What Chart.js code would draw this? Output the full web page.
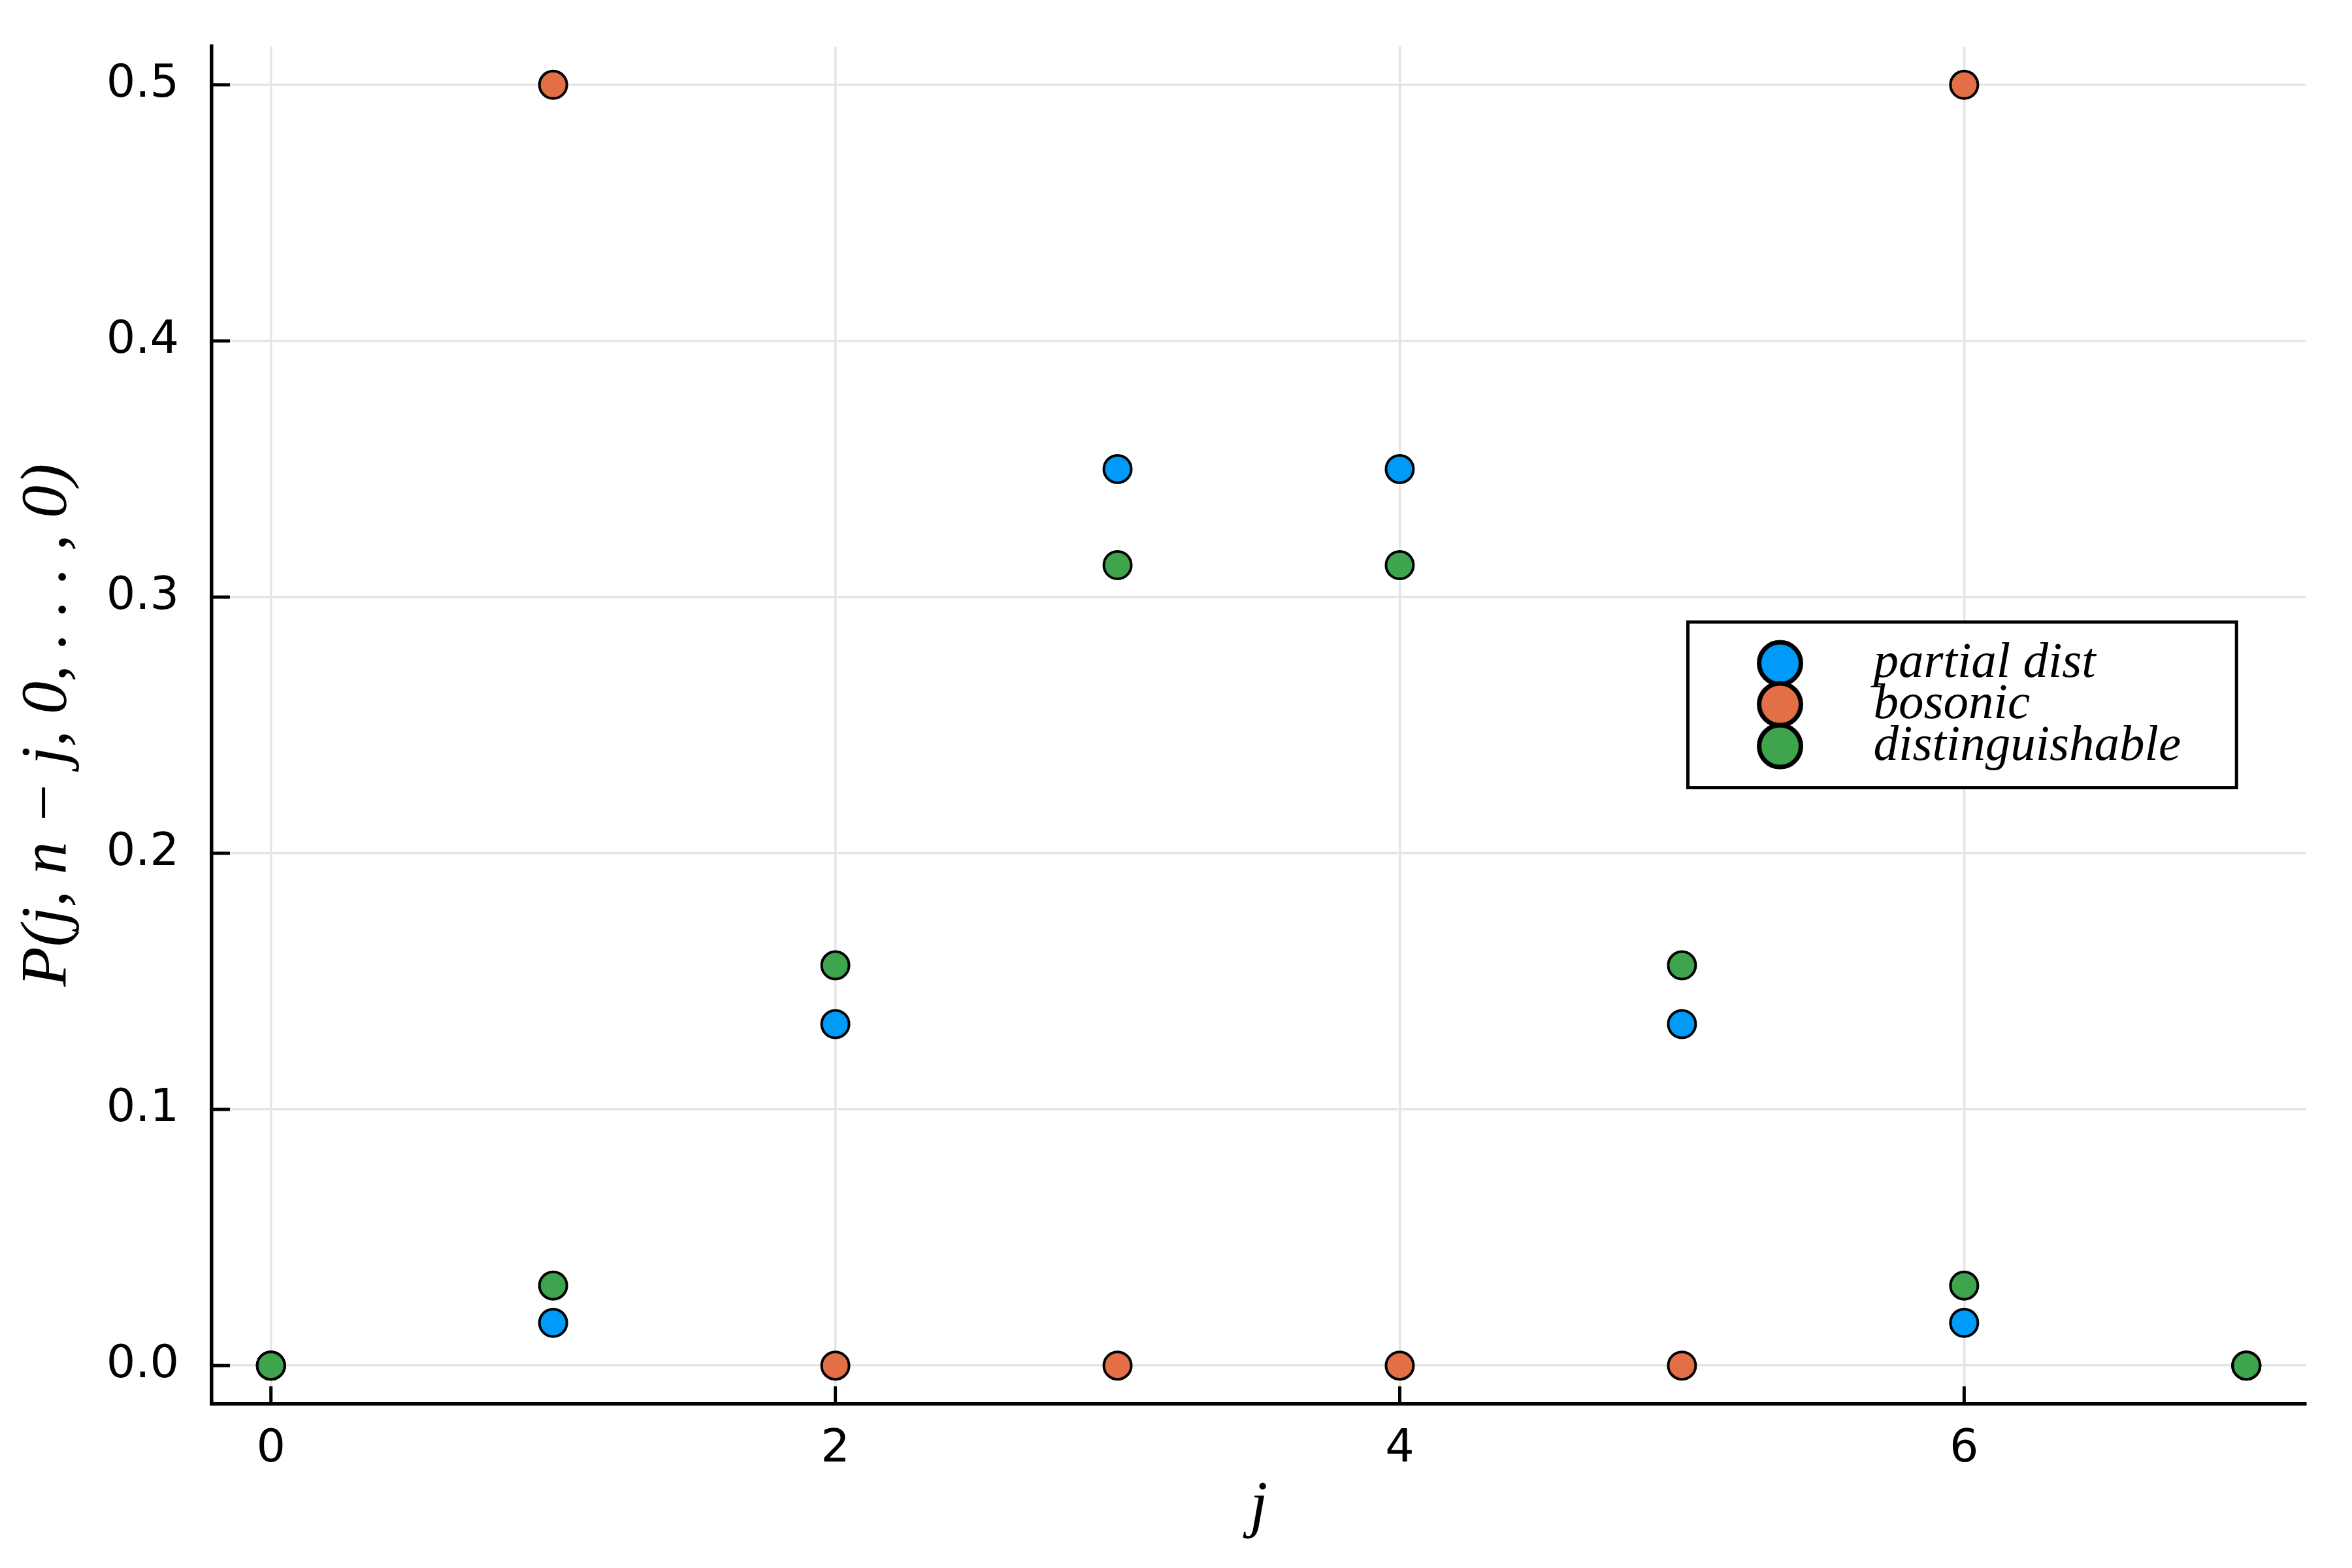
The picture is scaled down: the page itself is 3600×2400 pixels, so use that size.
<!DOCTYPE html>
<html>
<head>
<meta charset="utf-8">
<script src="https://cdn.jsdelivr.net/npm/chart.js@4"></script>
<style>
  html, body { margin:0; padding:0; background:#fff; }
  #wrap { width:3600px; height:2400px; }
</style>
</head>
<body>
<div id="wrap"><canvas id="probChart"></canvas></div>
<script>
// Data
const jValues = [0, 1, 2, 3, 4, 5, 6, 7];
const partialDist = [0, 0.0167, 0.1333, 0.35, 0.35, 0.1333, 0.0167, 0];
const bosonic = [0, 0.5, 0, 0, 0, 0, 0.5, 0];
const distinguishable = [0, 0.03125, 0.15625, 0.3125, 0.3125, 0.15625, 0.03125, 0];

const seriesLabels = ['partial dist', 'bosonic', 'distinguishable'];
const xTicks = [0, 2, 4, 6];
const yTicks = [0.0, 0.1, 0.2, 0.3, 0.4, 0.5];

const colors = ['#009AF9', '#E26F46', '#3EA44E'];

function toPoints(ys) {
    return jValues.map((x, i) => ({ x: x, y: ys[i] }));
}

// Inward tick marks on both axes
const innerTicks = {
    id: 'innerTicks',
    beforeDatasetsDraw(chart) {
        const ctx = chart.ctx, ca = chart.chartArea;
        const xs = chart.scales.x, ys = chart.scales.y;
        ctx.save();
        ctx.strokeStyle = '#000';
        ctx.lineWidth = 5;
        xTicks.forEach(v => {
            const px = xs.getPixelForValue(v);
            ctx.beginPath(); ctx.moveTo(px, ca.bottom); ctx.lineTo(px, ca.bottom - 27); ctx.stroke();
        });
        yTicks.forEach(v => {
            const py = ys.getPixelForValue(v);
            ctx.beginPath(); ctx.moveTo(ca.left, py); ctx.lineTo(ca.left + 28, py); ctx.stroke();
        });
        ctx.restore();
    }
};

// Legend box inside the plot, like the original
const boxLegend = {
    id: 'boxLegend',
    afterDraw(chart) {
        const ctx = chart.ctx, ca = chart.chartArea;
        const w = ca.right - ca.left, h = ca.bottom - ca.top;
        const left = ca.left + 0.705 * w, right = ca.left + 0.967 * w;
        const top = ca.top + 0.424 * h, bottom = ca.top + 0.546 * h;
        ctx.save();
        ctx.fillStyle = '#fff';
        ctx.fillRect(left, top, right - left, bottom - top);
        ctx.strokeStyle = '#000';
        ctx.lineWidth = 5;
        ctx.strokeRect(left, top, right - left, bottom - top);

        const markerX = left + 141;
        const rowY = [top + 63, top + 126, top + 190];
        chart.data.datasets.forEach((ds, i) => {
            ctx.beginPath();
            ctx.arc(markerX, rowY[i], 32, 0, Math.PI * 2);
            ctx.fillStyle = ds.backgroundColor;
            ctx.fill();
            ctx.lineWidth = 7;
            ctx.strokeStyle = '#000';
            ctx.stroke();
        });
        ctx.fillStyle = '#000';
        ctx.font = 'italic 77px "Liberation Serif"';
        ctx.textBaseline = 'alphabetic';
        ctx.textAlign = 'left';
        chart.data.datasets.forEach((ds, i) => {
            ctx.fillText(ds.label, left + 284, rowY[i] + 21);
        });
        ctx.restore();
    }
};

function makeDataset(i, ys, order) {
    return {
        label: seriesLabels[i],
        data: toPoints(ys),
        backgroundColor: colors[i],
        borderColor: '#000',
        borderWidth: 4,
        pointRadius: 21,
        pointHoverRadius: 21,
        order: order
    };
}

const ctx = document.getElementById('probChart').getContext('2d');
new Chart(ctx, {
    type: 'scatter',
    data: {
        datasets: [
            makeDataset(0, partialDist, 3),
            makeDataset(1, bosonic, 2),
            makeDataset(2, distinguishable, 1)
        ]
    },
    options: {
        responsive: true,
        maintainAspectRatio: false,
        devicePixelRatio: 1,
        animation: false,
        layout: { padding: { top: 71, right: 71, left: 0, bottom: 0 } },
        plugins: { legend: { display: false }, tooltip: { enabled: false } },
        scales: {
            x: {
                type: 'linear',
                min: -0.21, max: 7.21,
                afterBuildTicks: s => { s.ticks = xTicks.map(v => ({ value: v })); },
                afterFit: s => { s.height = 251; s.paddingLeft = 0; s.paddingRight = 0; },
                grid: { color: '#e5e5e5', lineWidth: 3.5, drawTicks: false },
                border: { color: '#000', width: 5.5 },
                ticks: {
                    color: '#000', padding: 28,
                    font: { family: '"DejaVu Sans"', size: 70 },
                    callback: v => String(v)
                },
                title: {
                    display: true, text: 'j', color: '#000',
                    font: { family: '"Liberation Serif"', size: 98, style: 'italic' },
                    padding: { top: 0, bottom: 33 }
                }
            },
            y: {
                type: 'linear',
                min: -0.015, max: 0.515,
                afterBuildTicks: s => { s.ticks = yTicks.map(v => ({ value: v })); },
                afterFit: s => { s.width = 324; s.paddingTop = 0; s.paddingBottom = 0; },
                grid: { color: '#e5e5e5', lineWidth: 3.5, drawTicks: false },
                border: { color: '#000', width: 5.5 },
                ticks: {
                    color: '#000', padding: 50,
                    font: { family: '"DejaVu Sans"', size: 70 },
                    callback: v => v.toFixed(1)
                },
                title: {
                    display: true, text: 'P(j, n \u2212 j, 0, . . . , 0)', color: '#000',
                    font: { family: '"Liberation Serif"', size: 100, style: 'italic' },
                    padding: { top: 14, bottom: 0 }
                }
            }
        }
    },
    plugins: [innerTicks, boxLegend]
});
</script>
</body>
</html>
